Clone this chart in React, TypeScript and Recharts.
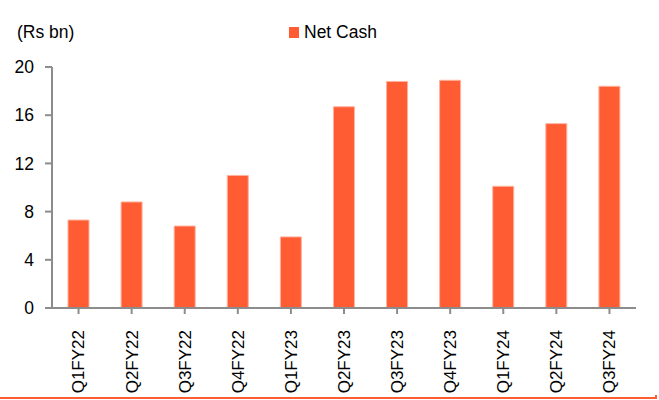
import { BarChart, Bar, XAxis, YAxis } from "recharts";

const quarters = [
  "Q1FY22", "Q2FY22", "Q3FY22", "Q4FY22", "Q1FY23", "Q2FY23",
  "Q3FY23", "Q4FY23", "Q1FY24", "Q2FY24", "Q3FY24",
];
const netCash = [7.3, 8.8, 6.8, 11.0, 5.9, 16.7, 18.8, 18.9, 10.1, 15.3, 18.4];
const yTicks = [0, 4, 8, 12, 16, 20];

const ORANGE = "#FF5C33";
const AXIS = "#8c8c8c";
const FONT = "'Liberation Sans', Arial, sans-serif";

const data = quarters.map((q, i) => ({ quarter: q, netCash: netCash[i] }));

// rotated category labels, reading bottom to top
function QuarterTick(props: any) {
  const { x, y, payload } = props;
  return (
    <text
      transform={`translate(${x},${y + 14}) rotate(-90)`}
      textAnchor="end"
      dy="0.35em"
      fontSize={17}
      fontFamily={FONT}
      fill="#000"
    >
      {payload.value}
    </text>
  );
}

export default function App() {
  return (
    <div style={{ position: "relative", width: 659, height: 400, background: "#fff", fontFamily: FONT, color: "#000" }}>
      <style>{`body{margin:0}`}</style>
      <div style={{ position: "absolute", left: 17, top: 22, fontSize: 17.5, lineHeight: "20px" }}>(Rs bn)</div>
      {/* legend */}
      <div style={{ position: "absolute", left: 289, top: 22, display: "flex", alignItems: "center", fontSize: 17.5, lineHeight: "20px" }}>
        <span style={{ display: "inline-block", width: 10, height: 11, background: ORANGE, marginRight: 5 }} />
        <span>Net Cash</span>
      </div>
      <BarChart
        width={659}
        height={400}
        data={data}
        margin={{ top: 67, right: 23, left: 0, bottom: 0 }}
        barSize={21}
      >
        <XAxis
          dataKey="quarter"
          height={92}
          interval={0}
          tick={<QuarterTick />}
          stroke={AXIS}
          axisLine={{ stroke: AXIS, strokeWidth: 2 }}
          tickLine={{ stroke: AXIS, strokeWidth: 2 }}
          tickSize={6}
        />
        <YAxis
          width={52}
          domain={[0, 20]}
          ticks={yTicks}
          interval={0}
          stroke={AXIS}
          tick={{ fontSize: 17.5, fill: "#000", fontFamily: FONT }}
          axisLine={{ stroke: AXIS, strokeWidth: 2 }}
          tickLine={{ stroke: AXIS, strokeWidth: 2 }}
          tickSize={7}
          tickMargin={11}
        />
        <Bar
          dataKey="netCash"
          name="Net Cash"
          fill={ORANGE}
          stroke="#FFB29E"
          strokeWidth={1}
          isAnimationActive={false}
        />
      </BarChart>
      <div style={{ position: "absolute", left: 0, top: 397, width: 657, height: 0, borderTop: `2px solid ${ORANGE}` }} />
      <div style={{ position: "absolute", left: 655, top: 395, width: 2, height: 3, background: ORANGE }} />
    </div>
  );
}
